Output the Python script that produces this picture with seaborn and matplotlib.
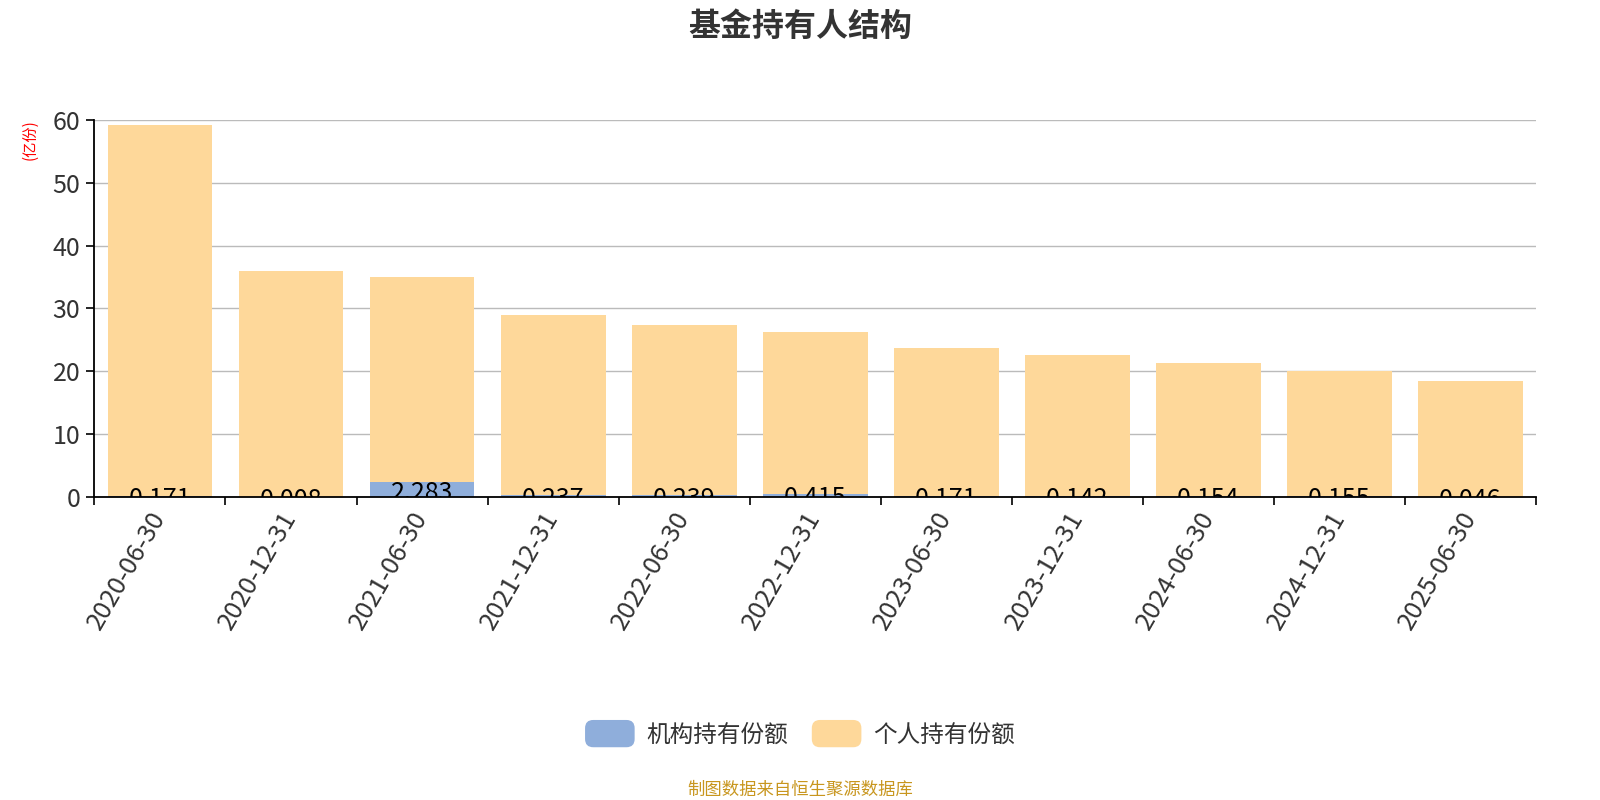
import matplotlib
matplotlib.use("Agg")
import matplotlib.pyplot as plt
import matplotlib.transforms as mtransforms
import numpy as np
import pandas as pd
import seaborn as sns
from matplotlib.patches import Patch, FancyBboxPatch
from matplotlib.legend_handler import HandlerPatch

# data (亿份)
dates = ['2020-06-30', '2020-12-31', '2021-06-30', '2021-12-31', '2022-06-30', '2022-12-31',
         '2023-06-30', '2023-12-31', '2024-06-30', '2024-12-31', '2025-06-30']
inst = [0.171, 0.008, 2.283, 0.237, 0.239, 0.415, 0.171, 0.142, 0.154, 0.155, 0.046]
personal = [59.03, 35.89, 32.72, 28.66, 27.06, 25.89, 23.53, 22.46, 21.15, 19.85, 18.45]

blue = '#8FAEDB'
orange = '#FED89A'

df = pd.DataFrame({'date': dates, 'inst': inst, 'personal': personal})
df['total'] = df['inst'] + df['personal']


class RoundHandler(HandlerPatch):
    # rounded legend swatches
    def create_artists(self, legend, orig_handle, xdescent, ydescent, width, height, fontsize, trans):
        p = FancyBboxPatch((-xdescent, -ydescent), width, height,
                           boxstyle='round,pad=0,rounding_size=%f' % (height * 0.3),
                           facecolor=orig_handle.get_facecolor(), edgecolor='none', transform=trans)
        return [p]


sns.set_style('white')
plt.rcParams['font.family'] = ['Noto Sans CJK SC', 'DejaVu Sans']

fig = plt.figure(figsize=(16, 8), dpi=100)
ax = fig.add_axes([0.059, 0.379, 0.901, 0.471])

# stacked: total in orange, institutional drawn over it from the bottom
sns.barplot(data=df, x='date', y='total', color=orange, width=0.8, saturation=1,
            linewidth=0, edgecolor='none', ax=ax)
sns.barplot(data=df, x='date', y='inst', color=blue, width=0.8, saturation=1,
            linewidth=0, edgecolor='none', ax=ax)

shift = mtransforms.ScaledTranslation(0, -3 / 100, fig.dpi_scale_trans)
for i, v in enumerate(inst):
    ax.text(i, v / 2, '{:.3f}'.format(v), ha='center', va='center', fontsize=18,
            color='black', clip_on=True, transform=ax.transData + shift)

ax.set_ylim(0, 60)
ax.set_xlim(-0.5, len(dates) - 0.5)
ax.set_yticks(range(0, 61, 10))
ax.yaxis.grid(True, color='#bbbbbb', linewidth=1)
ax.set_axisbelow(True)
ax.set_xlabel('')
ax.set_ylabel('')

ax.set_xticks(range(len(dates)))
ax.set_xticklabels(dates, rotation=60, ha='right', va='center', rotation_mode='anchor')
ax.set_xticks(np.arange(-0.5, len(dates)), minor=True)
ax.tick_params(axis='x', which='major', bottom=True, length=0, pad=12, labelsize=18.5,
               labelcolor='#333333')
ax.tick_params(axis='x', which='minor', bottom=True, length=6, width=1.2, color='black',
               direction='out')
ax.tick_params(axis='y', left=True, length=6, width=1.2, color='black', labelsize=18,
               labelcolor='#333333', pad=4)

for s in ['top', 'right']:
    ax.spines[s].set_visible(False)
for s in ['left', 'bottom']:
    ax.spines[s].set_color('black')
    ax.spines[s].set_linewidth(1.3)

fig.text(0.5, 0.966, '基金持有人结构', ha='center', va='center', fontsize=23,
         fontweight='bold', color='#333333')
fig.text(0.019, 0.825, '(亿份)', ha='center', va='center', rotation=90, fontsize=11, color='red')

handles = [Patch(facecolor=blue, edgecolor=blue, label='机构持有份额'),
           Patch(facecolor=orange, edgecolor=orange, label='个人持有份额')]
fig.legend(handles=handles, loc='center', bbox_to_anchor=(0.5, 0.083), ncol=2, frameon=False,
           fontsize=17, handlelength=2.1, handleheight=1.4, columnspacing=1.0, handletextpad=0.5,
           labelcolor='#333333', handler_map={Patch: RoundHandler()})

fig.text(0.5, 0.013, '制图数据来自恒生聚源数据库', ha='center', va='center', fontsize=12.5,
         color='#C8961E')

fig.savefig('out.png', dpi=100)
